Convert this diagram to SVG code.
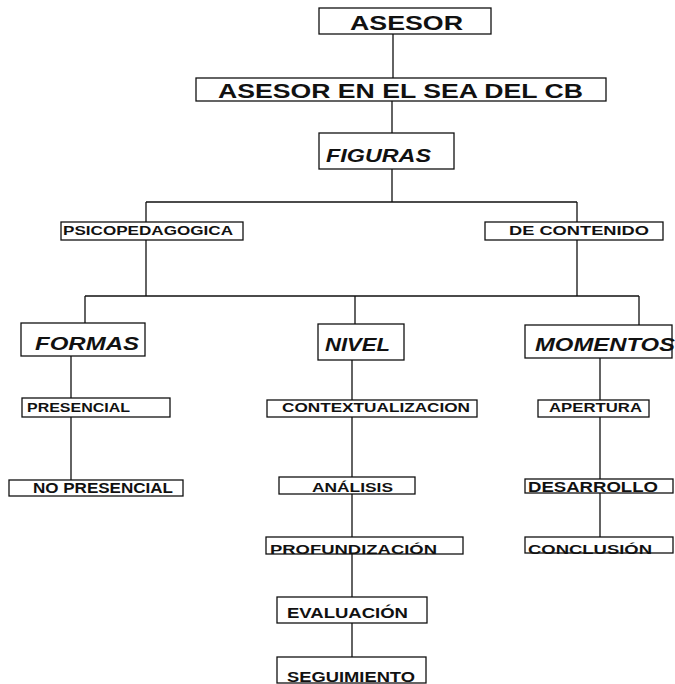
<svg xmlns="http://www.w3.org/2000/svg" width="675" height="684" viewBox="0 0 675 684">
<style>
.b{fill:#fff;stroke:#111;stroke-width:1.3}
.t{font-family:"Liberation Sans",Arial,sans-serif;font-weight:bold;fill:#111}
.i{font-style:italic}
.c{stroke:#111;stroke-width:1.3;fill:none}
</style>
<rect width="675" height="684" fill="#fff"/>
<g id="connectors">
<path class="c" d="M393 34V78M392 101V133M392 169V202M146 202H577M146 202V222M577 202V222M146 240V296M577 240V296M85 296H639M85 296V323M355 296V324M639 296V325"/>
<path class="c" d="M71 356V398M71 417V480"/>
<path class="c" d="M352 360V400M352 417V477M352 494V537M352 554V597M352 623V657"/>
<path class="c" d="M600 358V400M600 417V479M600 493V537"/>
</g>
<g id="asesor"><rect class="b" x="319" y="8" width="172" height="26"/><text class="t" x="350" y="30" font-size="20.5" textLength="113" lengthAdjust="spacingAndGlyphs">ASESOR</text></g>
<g id="sea"><rect class="b" x="196" y="78" width="410" height="23"/><text class="t" x="218" y="98" font-size="20" textLength="365" lengthAdjust="spacingAndGlyphs">ASESOR EN EL SEA DEL CB</text></g>
<g id="figuras"><rect class="b" x="319" y="133" width="135" height="36"/><text class="t i" x="326" y="162" font-size="18" textLength="105" lengthAdjust="spacingAndGlyphs">FIGURAS</text></g>
<g id="psico"><rect class="b" x="61" y="222" width="182" height="18"/><text class="t" x="63" y="235" font-size="13" textLength="170" lengthAdjust="spacingAndGlyphs">PSICOPEDAGOGICA</text></g>
<g id="contenido"><rect class="b" x="485" y="222" width="178" height="18"/><text class="t" x="509" y="235" font-size="12.5" textLength="140" lengthAdjust="spacingAndGlyphs">DE CONTENIDO</text></g>
<g id="formas"><rect class="b" x="21" y="323" width="124" height="33"/><text class="t i" x="35" y="350" font-size="18" textLength="104" lengthAdjust="spacingAndGlyphs">FORMAS</text></g>
<g id="nivel"><rect class="b" x="318" y="324" width="86" height="36"/><text class="t i" x="325" y="351" font-size="18" textLength="65" lengthAdjust="spacingAndGlyphs">NIVEL</text></g>
<g id="momentos"><rect class="b" x="525" y="325" width="147" height="33"/><text class="t i" x="535" y="351" font-size="18" textLength="140" lengthAdjust="spacingAndGlyphs">MOMENTOS</text></g>
<g id="presencial"><rect class="b" x="22" y="398" width="148" height="19"/><text class="t" x="27" y="412" font-size="12.5" textLength="103" lengthAdjust="spacingAndGlyphs">PRESENCIAL</text></g>
<g id="nopresencial"><rect class="b" x="9" y="480" width="174" height="16"/><text class="t" x="33" y="493" font-size="14.5" textLength="140" lengthAdjust="spacingAndGlyphs">NO PRESENCIAL</text></g>
<g id="contextualizacion"><rect class="b" x="267" y="400" width="210" height="17"/><text class="t" x="282" y="412" font-size="12" textLength="188" lengthAdjust="spacingAndGlyphs">CONTEXTUALIZACION</text></g>
<g id="analisis"><rect class="b" x="279" y="477" width="136" height="17"/><text class="t" x="312" y="492" font-size="13" textLength="81" lengthAdjust="spacingAndGlyphs">ANÁLISIS</text></g>
<g id="profundizacion"><rect class="b" x="266" y="537" width="197" height="17"/><text class="t" x="270" y="554" font-size="13.5" textLength="167" lengthAdjust="spacingAndGlyphs">PROFUNDIZACIÓN</text></g>
<g id="evaluacion"><rect class="b" x="277" y="597" width="150" height="26"/><text class="t" x="287" y="618" font-size="14.5" textLength="121" lengthAdjust="spacingAndGlyphs">EVALUACIÓN</text></g>
<g id="seguimiento"><rect class="b" x="277" y="657" width="149" height="26"/><text class="t" x="287" y="682" font-size="14" textLength="128" lengthAdjust="spacingAndGlyphs">SEGUIMIENTO</text></g>
<g id="apertura"><rect class="b" x="538" y="400" width="111" height="17"/><text class="t" x="549" y="412" font-size="13" textLength="93" lengthAdjust="spacingAndGlyphs">APERTURA</text></g>
<g id="desarrollo"><rect class="b" x="525" y="479" width="148" height="14"/><text class="t" x="528" y="492" font-size="14.5" textLength="130" lengthAdjust="spacingAndGlyphs">DESARROLLO</text></g>
<g id="conclusion"><rect class="b" x="525" y="537" width="148" height="16"/><text class="t" x="528" y="554" font-size="13.5" textLength="124" lengthAdjust="spacingAndGlyphs">CONCLUSIÓN</text></g>
</svg>
